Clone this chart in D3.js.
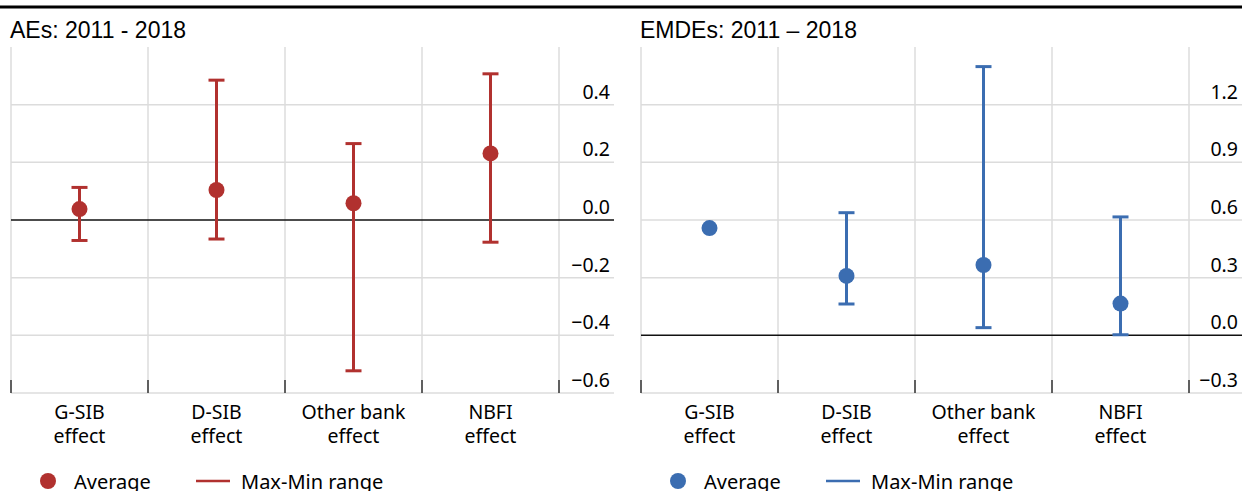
<!DOCTYPE html>
<html>
<head>
<meta charset="utf-8">
<script src="https://cdn.jsdelivr.net/npm/d3@7"></script>
<style>
  body { margin: 0; background: #fff; }
  svg { display: block; }
</style>
</head>
<body>
<div class="chart-area"></div>
<script>
var categories = ["G-SIB effect", "D-SIB effect", "Other bank effect", "NBFI effect"];
var categoryLines = [["G-SIB", "effect"], ["D-SIB", "effect"], ["Other bank", "effect"], ["NBFI", "effect"]];

// AEs: 2011 - 2018
var aeAverage = [0.038, 0.104, 0.058, 0.231];
var aeMax = [0.113, 0.485, 0.265, 0.507];
var aeMin = [-0.071, -0.066, -0.523, -0.077];
var aeTicks = [-0.6, -0.4, -0.2, 0.0, 0.2, 0.4];

// EMDEs: 2011 - 2018
var emAverage = [0.558, 0.309, 0.366, 0.165];
var emMax = [null, 0.638, 1.398, 0.616];
var emMin = [null, 0.163, 0.040, 0.003];
var emTicks = [-0.3, 0.0, 0.3, 0.6, 0.9, 1.2];

var svg = d3.select(".chart-area")
    .append("svg")
    .attr("width", 1242)
    .attr("height", 491);

// top rule
svg.append("line")
    .attr("x1", 0).attr("x2", 1242)
    .attr("y1", 7).attr("y2", 7)
    .attr("stroke", "#000")
    .attr("stroke-width", 3);

drawPanel({
    left: 11, plotRight: 559, labelRight: 614,
    title: "AEs: 2011 - 2018",
    domain: [-0.6, 0.6], ticks: aeTicks, fmt: d3.format(".1f"),
    avg: aeAverage, max: aeMax, min: aeMin,
    color: "#b1312f"
});

drawPanel({
    left: 641, plotRight: 1189, labelRight: 1242,
    title: "EMDEs: 2011 \u2013 2018",
    domain: [-0.3, 1.5], ticks: emTicks, fmt: d3.format(".1f"),
    avg: emAverage, max: emMax, min: emMin,
    color: "#3b6db1"
});

function drawPanel(p) {
    var top = 47, bottom = 393;
    var font = "'Noto Sans', 'Open Sans', sans-serif";
    var g = svg.append("g");

    var x = d3.scaleBand()
        .domain(categories)
        .range([p.left, p.plotRight])
        .padding(0);
    var y = d3.scaleLinear()
        .domain(p.domain)
        .range([bottom, top]);

    g.append("text")
        .attr("x", p.left - 1)
        .attr("y", 38)
        .attr("font-family", "'Liberation Sans', Arial, sans-serif")
        .attr("font-size", 23)
        .attr("fill", "#000")
        .text(p.title);

    // vertical grid at band edges
    var edges = categories.map(function(c) { return x(c); }).concat([p.plotRight]);
    g.selectAll(".vgrid")
        .data(edges)
        .enter().append("line")
        .attr("x1", function(d) { return d; })
        .attr("x2", function(d) { return d; })
        .attr("y1", top).attr("y2", bottom)
        .attr("stroke", "#dcdcdc")
        .attr("stroke-width", 1.5);

    // horizontal grid
    var gridVals = p.ticks.concat([p.ticks[p.ticks.length - 1] + (p.ticks[1] - p.ticks[0])]);
    g.selectAll(".hgrid")
        .data(gridVals.filter(function(d) { return d !== 0 && y(d) > top + 1; }))
        .enter().append("line")
        .attr("x1", p.left).attr("x2", p.labelRight)
        .attr("y1", function(d) { return y(d); })
        .attr("y2", function(d) { return y(d); })
        .attr("stroke", "#dcdcdc")
        .attr("stroke-width", 1.5);

    // zero line
    g.append("line")
        .attr("x1", p.left).attr("x2", p.labelRight)
        .attr("y1", y(0)).attr("y2", y(0))
        .attr("stroke", "#111")
        .attr("stroke-width", 1.5);

    // y tick labels above the gridlines
    g.selectAll(".ylab")
        .data(p.ticks)
        .enter().append("text")
        .attr("x", p.labelRight - 4)
        .attr("y", function(d) { return y(d) - 6; })
        .attr("text-anchor", "end")
        .attr("font-family", font)
        .attr("font-size", 19.5)
        .attr("fill", "#000")
        .text(function(d) { return p.fmt(d).replace("-", "\u2212"); });

    // bottom axis ticks
    g.selectAll(".xtick")
        .data(edges)
        .enter().append("line")
        .attr("x1", function(d) { return d; })
        .attr("x2", function(d) { return d; })
        .attr("y1", bottom - 13).attr("y2", bottom)
        .attr("stroke", "#333")
        .attr("stroke-width", 1.5);

    // category labels, two lines each
    [0, 1].forEach(function(k) {
        g.selectAll(".xlab" + k)
            .data(categories)
            .enter().append("text")
            .attr("x", function(d) { return x(d) + x.bandwidth() / 2; })
            .attr("y", 419 + k * 24)
            .attr("text-anchor", "middle")
            .attr("font-family", font)
            .attr("font-size", 19.5)
            .attr("fill", "#000")
            .text(function(d, i) { return categoryLines[i][k]; });
    });

    // error bars
    var cap = 8;
    categories.forEach(function(c, i) {
        var cx = x(c) + x.bandwidth() / 2;
        if (p.max[i] != null) {
            g.append("line")
                .attr("x1", cx).attr("x2", cx)
                .attr("y1", y(p.max[i])).attr("y2", y(p.min[i]))
                .attr("stroke", p.color).attr("stroke-width", 3);
            [p.max[i], p.min[i]].forEach(function(v) {
                g.append("line")
                    .attr("x1", cx - cap).attr("x2", cx + cap)
                    .attr("y1", y(v)).attr("y2", y(v))
                    .attr("stroke", p.color).attr("stroke-width", 3);
            });
        }
        g.append("circle")
            .attr("cx", cx)
            .attr("cy", y(p.avg[i]))
            .attr("r", 8)
            .attr("fill", p.color);
    });

    // legend
    var lx = p.left;
    g.append("circle")
        .attr("cx", lx + 37).attr("cy", 481).attr("r", 8)
        .attr("fill", p.color);
    g.append("text")
        .attr("x", lx + 63).attr("y", 489)
        .attr("font-family", font)
        .attr("font-size", 20)
        .attr("fill", "#000")
        .text("Average");
    g.append("line")
        .attr("x1", lx + 185).attr("x2", lx + 219)
        .attr("y1", 481).attr("y2", 481)
        .attr("stroke", p.color).attr("stroke-width", 2.5);
    g.append("text")
        .attr("x", lx + 230).attr("y", 489)
        .attr("font-family", font)
        .attr("font-size", 20)
        .attr("fill", "#000")
        .text("Max-Min range");
}
</script>
</body>
</html>
